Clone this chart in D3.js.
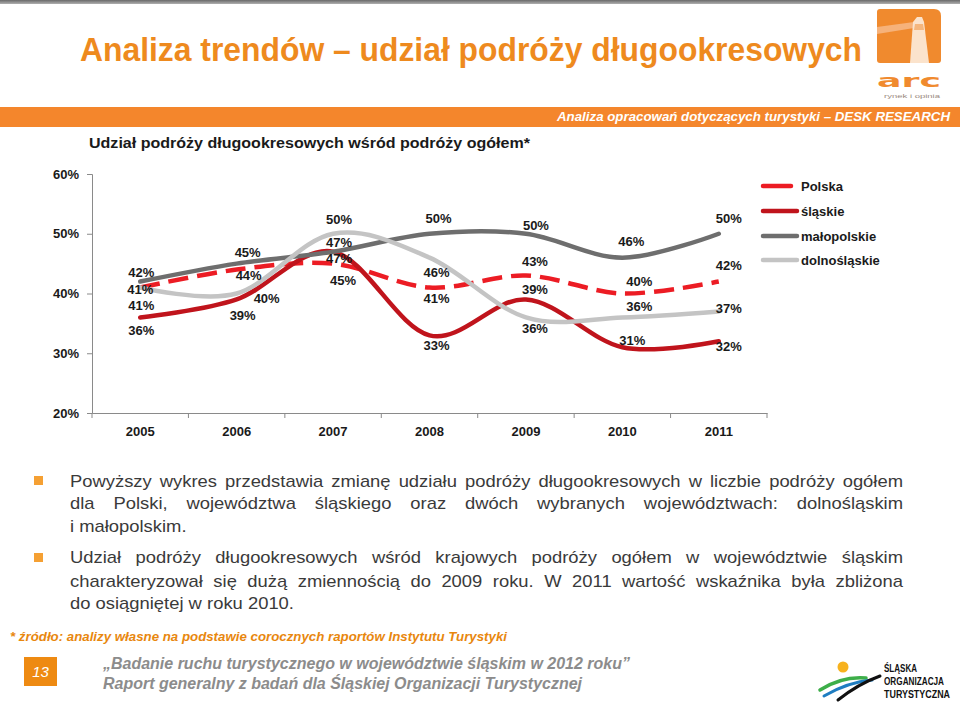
<!DOCTYPE html>
<html><head><meta charset="utf-8">
<script src="https://cdn.jsdelivr.net/npm/d3@7"></script>
<style>body{margin:0;background:#fff}svg{display:block}</style>
</head><body>
<svg id="c" width="960" height="705"></svg>
<script>
// ---------- DATA ----------
const years = ["2005","2006","2007","2008","2009","2010","2011"];
const seriesNames = ["Polska","śląskie","małopolskie","dolnośląskie"];
const polska       = [41,44,45,41,43,40,42];
const slaskie      = [36,39,47,33,39,31,32];
const malopolskie  = [42,45,47,50,50,46,50];
const dolnoslaskie = [41,40,50,46,36,36,37];
const yTickValues  = [20,30,40,50,60];

// ---------- LAYOUT / STYLE (separate from data) ----------
const seriesColors = ["#EC1C24","#C0141C","#6E6E6E","#C4C4C4"];
const seriesDash   = ["20,9",null,null,null];
const seriesWidth  = [4.5,4.5,4.5,4.5];
const labelDx = [[0,12,10,7,9,17,10],[1,6,6,7,9,10,10],[1,11,6,9,10,9,10],[1,30,6,7,9,17,10]];
const labelDy = [[2,6,17,11,-14,-12,-16],[13,16,7,10,-10,-7,5],[-9,-11,-9,-15,-8,-16,-15],[18,5,-14,15,11,-11,-3]];

const allSeries = [polska, slaskie, malopolskie, dolnoslaskie];
const FONT = "'Liberation Sans', Arial, sans-serif";
const NARROW = "'Liberation Sans Narrow', 'Arial Narrow', 'Liberation Sans', Arial, sans-serif";
const svg = d3.select("#c");

// ---------- HEADER ----------
const grad = svg.append("defs").append("linearGradient").attr("id","tg").attr("x1",0).attr("x2",0).attr("y1",0).attr("y2",1);
grad.append("stop").attr("offset","0%").attr("stop-color","#6a6a6a");
grad.append("stop").attr("offset","100%").attr("stop-color","#b0b0b0");
svg.append("rect").attr("x",0).attr("y",0).attr("width",960).attr("height",4).attr("fill","url(#tg)");

svg.append("text").attr("x",80).attr("y",61).attr("font-family",NARROW).attr("font-weight","bold")
  .attr("font-size",33).attr("fill","#EE8A1E").attr("textLength",782).attr("lengthAdjust","spacingAndGlyphs")
  .text("Analiza trendów – udział podróży długookresowych");

// ARC logo
const logo = svg.append("g");
logo.append("path").attr("d","M877,12 Q877,9 880,9 L934,9 Q941,9 941,16 L941,60 Q941,63 938,63 L880,63 Q877,63 877,60 Z").attr("fill","#F08A2E");
logo.append("path").attr("d","M877,27 L914,22 L914,28 L877,34 Z").attr("fill","#F6B27A");
logo.append("path").attr("d","M913,22 L917,17 L922,17 L924,22 L929,63 L910,63 Z").attr("fill","#FBE3CC");
logo.append("path").attr("d","M915,24 L923,24 L924,30 L914,30 Z").attr("fill","#F08A2E").attr("opacity",0.5);
logo.append("text").attr("x",877).attr("y",87).attr("font-family","'DejaVu Sans', sans-serif").attr("font-size",17)
  .attr("font-weight","bold").attr("fill","#F08A2E").attr("textLength",64).attr("lengthAdjust","spacingAndGlyphs").text("arc");
logo.append("text").attr("x",884).attr("y",98).attr("font-family",FONT).attr("font-size",6)
  .attr("fill","#9a8a80").attr("textLength",56).attr("lengthAdjust","spacingAndGlyphs").text("rynek i opinia");

// Orange band
svg.append("rect").attr("x",0).attr("y",107).attr("width",960).attr("height",20).attr("fill","#F4862C");
svg.append("text").attr("x",950).attr("y",121).attr("text-anchor","end").attr("font-family",NARROW)
  .attr("font-weight","bold").attr("font-style","italic").attr("font-size",13).attr("fill","#fff")
  .attr("textLength",393).attr("lengthAdjust","spacingAndGlyphs")
  .text("Analiza opracowań dotyczących turystyki – DESK RESEARCH");

// Subtitle
svg.append("text").attr("x",89).attr("y",148).attr("font-family",FONT).attr("font-weight","bold")
  .attr("font-size",14).attr("fill","#1a1a1a").attr("textLength",441).attr("lengthAdjust","spacingAndGlyphs")
  .text("Udział podróży długookresowych wśród podróży ogółem*");

// ---------- CHART ----------
const x = d3.scaleBand().domain(years).range([92,767]);
const y = d3.scaleLinear().domain([20,60]).range([413,174]);
const cx = d => x(d) + x.bandwidth()/2;

// y axis
const yAxis = d3.axisLeft(y).tickValues(yTickValues).tickSize(5).tickPadding(8).tickFormat(d => d + "%");
const gy = svg.append("g").attr("transform","translate(92,0)").call(yAxis);
gy.select(".domain").attr("stroke","#8a8a8a");
gy.selectAll(".tick line").attr("stroke","#8a8a8a");
gy.selectAll(".tick text").attr("font-family",FONT).attr("font-weight","bold").attr("font-size",13).attr("fill","#1a1a1a");

// x axis: labels through axis, ticks at band boundaries
const xAxis = d3.axisBottom(x).tickSize(0).tickPadding(14);
const gx = svg.append("g").attr("transform","translate(0,413)").call(xAxis);
gx.select(".domain").attr("stroke","#8a8a8a");
gx.selectAll(".tick text").attr("font-family",FONT).attr("font-weight","bold").attr("font-size",13).attr("fill","#1a1a1a");
const bounds = years.map(d => x(d)).concat([x(years[years.length-1]) + x.bandwidth()]);
svg.append("g").selectAll("line").data(bounds).join("line")
  .attr("x1",d=>d).attr("x2",d=>d).attr("y1",413).attr("y2",418).attr("stroke","#8a8a8a");

// lines
const line = d3.line().x((d,i) => cx(years[i])).y(d => y(d)).curve(d3.curveCatmullRom.alpha(0));
const gl = svg.append("g");
allSeries.forEach((s,k) => {
  gl.append("path").datum(s).attr("d",line).attr("fill","none")
    .attr("stroke",seriesColors[k]).attr("stroke-width",seriesWidth[k])
    .attr("stroke-dasharray",seriesDash[k]).attr("stroke-linecap", k===0 ? "butt" : "round");
});

// data labels
const glab = svg.append("g");
allSeries.forEach((s,k) => {
  glab.selectAll(null).data(s).join("text")
    .attr("x",(d,i) => cx(years[i]) + labelDx[k][i])
    .attr("y",(d,i) => y(d) + labelDy[k][i])
    .attr("dy","0.36em").attr("text-anchor","middle")
    .attr("font-family",FONT).attr("font-weight","bold").attr("font-size",13).attr("fill","#1a1a1a")
    .text(d => d + "%");
});

// legend
const legY = [186,211,236,260];
const lg = svg.append("g");
seriesNames.forEach((n,k) => {
  lg.append("line").attr("x1",763).attr("x2",k===0?791:797).attr("y1",legY[k]).attr("y2",legY[k])
    .attr("stroke",seriesColors[k]).attr("stroke-width",4.5).attr("stroke-linecap","round");
  lg.append("text").attr("x",801).attr("y",legY[k]).attr("dy","0.36em").attr("font-family",FONT)
    .attr("font-weight","bold").attr("font-size",13).attr("fill","#1a1a1a").text(n);
});

// ---------- BODY TEXT ----------
const para1 = [
  ["Powyższy wykres przedstawia zmianę udziału podróży długookresowych w liczbie podróży ogółem", true],
  ["dla Polski, województwa śląskiego oraz dwóch wybranych województwach: dolnośląskim", true],
  ["i małopolskim.", false]];
const para2 = [
  ["Udział podróży długookresowych wśród krajowych podróży ogółem w województwie śląskim", true],
  ["charakteryzował się dużą zmiennością do 2009 roku. W 2011 wartość wskaźnika była zbliżona", true],
  ["do osiągniętej w roku 2010.", false]];
const SX = 1.15;
function drawLine(str, justify, x0, x1, yy){
  const g = svg.append("g").attr("transform",`translate(${x0},${yy}) scale(${SX},1)`)
    .attr("font-family",FONT).attr("font-size",16).attr("fill","#3a3a3a");
  const words = str.split(" ");
  const nodes = words.map(w => g.append("text").attr("y",0).text(w));
  const widths = nodes.map(n => n.node().getComputedTextLength());
  const total = d3.sum(widths);
  const avail = (x1 - x0)/SX;
  const gap = justify && words.length > 1 ? (avail - total)/(words.length-1) : 4.45;
  let xx = 0;
  nodes.forEach((n,i) => { n.attr("x",xx); xx += widths[i] + gap; });
}
[[para1,[487,509,532],480],[para2,[563,587,609],557]].forEach(([p,ys,by]) => {
  svg.append("rect").attr("x",34).attr("y",by-4).attr("width",9).attr("height",9).attr("fill","#F5A033");
  p.forEach((l,i) => drawLine(l[0], l[1], 70, 903, ys[i]));
});

// footnote
svg.append("text").attr("x",10).attr("y",641).attr("font-family",NARROW).attr("font-weight","bold")
  .attr("font-style","italic").attr("font-size",12).attr("fill","#E8870E")
  .attr("textLength",497).attr("lengthAdjust","spacingAndGlyphs")
  .text("* źródło: analizy własne na podstawie corocznych raportów Instytutu Turystyki");

// page number
svg.append("rect").attr("x",24).attr("y",657).attr("width",33).attr("height",29).attr("fill","#EE8A12");
svg.append("text").attr("x",40.5).attr("y",677).attr("text-anchor","middle").attr("font-family",FONT)
  .attr("font-style","italic").attr("font-size",15).attr("fill","#fff").text("13");

// footer
svg.append("text").attr("x",103).attr("y",669).attr("font-family",FONT).attr("font-weight","bold")
  .attr("font-style","italic").attr("font-size",16).attr("fill","#8c8c8c")
  .attr("textLength",527).attr("lengthAdjust","spacingAndGlyphs")
  .text("„Badanie ruchu turystycznego w województwie śląskim w 2012 roku”");
svg.append("text").attr("x",103).attr("y",689).attr("font-family",FONT).attr("font-weight","bold")
  .attr("font-style","italic").attr("font-size",16).attr("fill","#8c8c8c")
  .attr("textLength",479).attr("lengthAdjust","spacingAndGlyphs")
  .text("Raport generalny z badań dla Śląskiej Organizacji Turystycznej");

// ŚOT logo
const sl = svg.append("g");
sl.append("circle").attr("cx",843).attr("cy",667).attr("r",5.5).attr("fill","#F7B21E");
sl.append("path").attr("d","M820,690 Q842,676 866,678").attr("fill","none").attr("stroke","#3DAE49").attr("stroke-width",3.5).attr("stroke-linecap","round");
sl.append("path").attr("d","M824,696 Q848,682 872,680").attr("fill","none").attr("stroke","#1F7DC1").attr("stroke-width",3).attr("stroke-linecap","round");
sl.append("path").attr("d","M838,700 Q858,684 880,676").attr("fill","none").attr("stroke","#111").attr("stroke-width",3).attr("stroke-linecap","round");
[["ŚLĄSKA",672,33],["ORGANIZACJA",685,60],["TURYSTYCZNA",698,66]].forEach(([t,yy,w]) => {
  sl.append("text").attr("x",884).attr("y",yy).attr("font-family",NARROW).attr("font-weight","bold")
    .attr("font-size",10).attr("fill","#111").attr("textLength",w).attr("lengthAdjust","spacingAndGlyphs").text(t);
});
</script>
</body></html>
